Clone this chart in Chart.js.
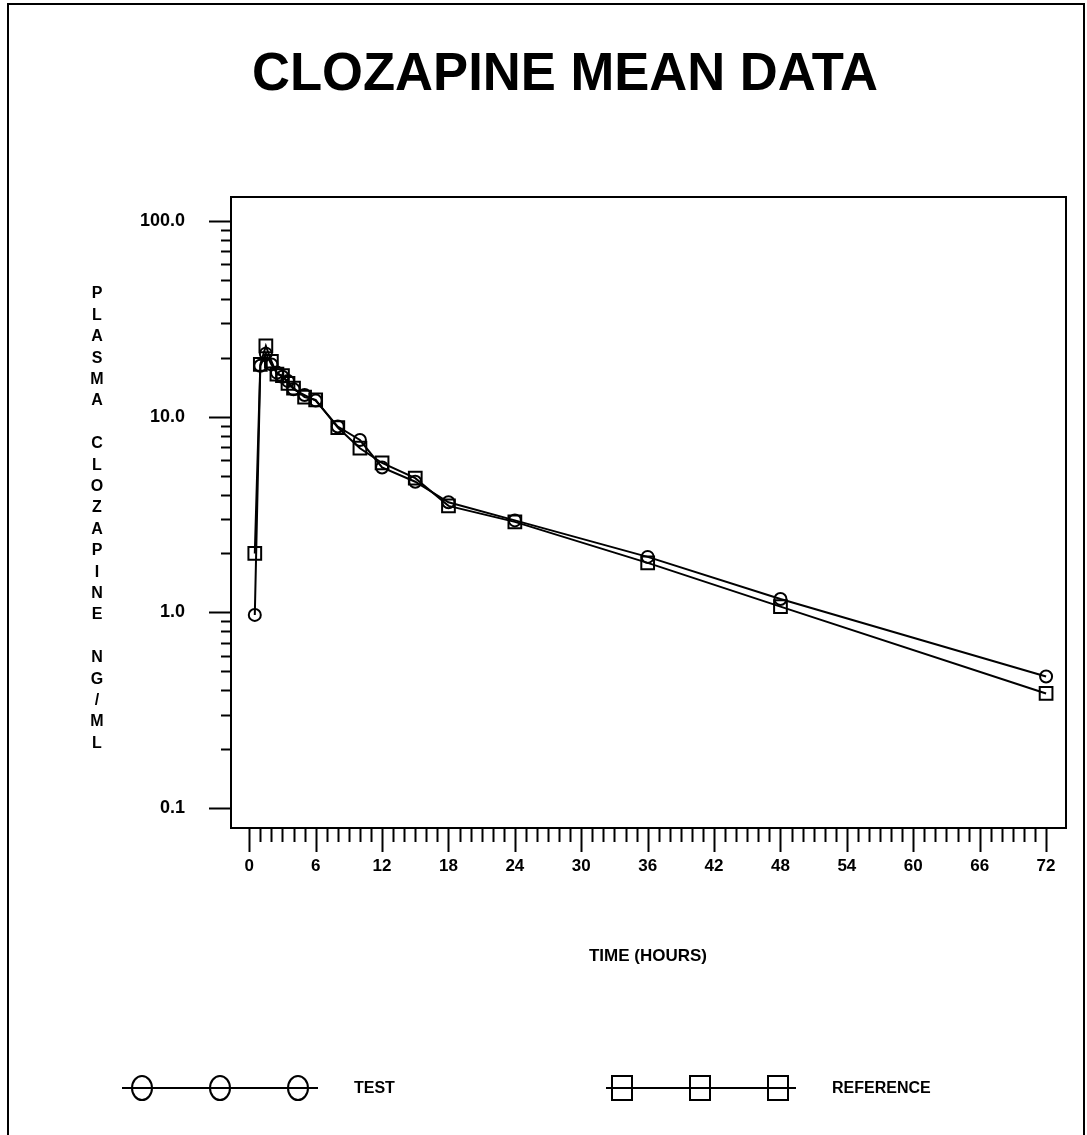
<!DOCTYPE html>
<html>
<head>
<meta charset="utf-8">
<title>Clozapine Mean Data</title>
<script src="https://cdn.jsdelivr.net/npm/chart.js@4.4.1/dist/chart.umd.min.js"></script>
<style>
  html, body { margin: 0; padding: 0; background: #fff; }
  canvas { display: block; }
</style>
</head>
<body>
<canvas id="pkChart" width="1087" height="1135"></canvas>
<script>
// sampling times (hours)
const times = [0.5, 1, 1.5, 2, 2.5, 3, 3.5, 4, 5, 6, 8, 10, 12, 15, 18, 24, 36, 48, 72];
// mean plasma clozapine, ng/mL
const testConc = [0.97, 18.2, 21.0, 18.5, 16.8, 16.0, 15.2, 13.8, 12.9, 12.1, 8.9, 7.6, 5.5, 4.65, 3.65, 2.95, 1.92, 1.17, 0.47];
const refConc = [2.0, 18.5, 23.0, 19.2, 16.5, 16.2, 14.8, 14.0, 12.6, 12.2, 8.8, 6.9, 5.8, 4.85, 3.5, 2.9, 1.79, 1.07, 0.385];

const xTickValues = [0, 6, 12, 18, 24, 30, 36, 42, 48, 54, 60, 66, 72];
const yTickValues = [0.1, 1, 10, 100];
const yLabelText = 'PLASMA CLOZAPINE NG/ML';

const FONT = '"Liberation Sans", Arial, sans-serif';

function toPoints(values) {
  return times.map((t, i) => ({ x: t, y: values[i] }));
}

// draws the page frame, plot box, tick marks, titles and the legend
const decorations = {
  id: 'decorations',
  afterDraw(chart) {
    const ctx = chart.ctx;
    const area = chart.chartArea;
    const xs = chart.scales.x;
    const ys = chart.scales.y;
    ctx.save();
    ctx.strokeStyle = '#000';
    ctx.fillStyle = '#000';

    // page frame
    ctx.lineWidth = 2;
    ctx.beginPath();
    ctx.moveTo(8, 1140);
    ctx.lineTo(8, 4);
    ctx.lineTo(1084, 4);
    ctx.lineTo(1084, 1140);
    ctx.stroke();

    // plot box
    ctx.lineWidth = 2;
    ctx.strokeRect(area.left, area.top, area.right - area.left, area.bottom - area.top);

    // x tick marks: every hour, longer every 6 h
    ctx.lineWidth = 2;
    for (let h = 0; h <= 72; h++) {
      const px = Math.round(xs.getPixelForValue(h)) + 0.5;
      const len = h % 6 === 0 ? 24 : 14;
      ctx.beginPath();
      ctx.moveTo(px, area.bottom);
      ctx.lineTo(px, area.bottom + len);
      ctx.stroke();
    }

    // y tick marks: decades long, 2..9 short
    [0.1, 1, 10].forEach(dec => {
      for (let m = 1; m <= 9; m++) {
        const v = dec * m;
        const py = Math.round(ys.getPixelForValue(v)) + 0.5;
        const len = m === 1 ? 22 : 10;
        ctx.beginPath();
        ctx.moveTo(area.left - len, py);
        ctx.lineTo(area.left, py);
        ctx.stroke();
      }
    });
    const p100 = Math.round(ys.getPixelForValue(100)) + 0.5;
    ctx.beginPath();
    ctx.moveTo(area.left - 22, p100);
    ctx.lineTo(area.left, p100);
    ctx.stroke();

    // main title, condensed
    ctx.font = 'bold 53px ' + FONT;
    ctx.textBaseline = 'alphabetic';
    ctx.textAlign = 'left';
    const title = 'CLOZAPINE MEAN DATA';
    const tw = ctx.measureText(title).width;
    ctx.save();
    ctx.translate(252, 90);
    ctx.scale(626 / tw, 1);
    ctx.fillText(title, 0, 0);
    ctx.restore();

    // vertical stacked y axis title
    ctx.font = 'bold 16px ' + FONT;
    ctx.textAlign = 'center';
    ctx.textBaseline = 'middle';
    for (let i = 0; i < yLabelText.length; i++) {
      ctx.fillText(yLabelText[i], 97, 294 + i * 21.4);
    }

    // x axis title
    ctx.font = 'bold 17px ' + FONT;
    ctx.fillText('TIME (HOURS)', 648, 956);

    // legend
    const ly = 1088;
    ctx.lineWidth = 2;
    ctx.beginPath();
    ctx.moveTo(122, ly);
    ctx.lineTo(318, ly);
    ctx.moveTo(606, ly);
    ctx.lineTo(796, ly);
    ctx.stroke();
    [142, 220, 298].forEach(cx => {
      ctx.beginPath();
      ctx.ellipse(cx, ly, 10, 12, 0, 0, Math.PI * 2);
      ctx.stroke();
    });
    [622, 700, 778].forEach(cx => {
      ctx.strokeRect(cx - 10, ly - 12, 20, 24);
    });
    ctx.font = 'bold 16px ' + FONT;
    ctx.textAlign = 'left';
    ctx.fillText('TEST', 354, ly + 1);
    ctx.fillText('REFERENCE', 832, ly + 1);

    ctx.restore();
  }
};

const ctx = document.getElementById('pkChart').getContext('2d');
new Chart(ctx, {
  type: 'line',
  data: {
    datasets: [{
      label: 'TEST',
      data: toPoints(testConc),
      borderColor: '#000',
      borderWidth: 2,
      pointStyle: 'circle',
      pointRadius: 6,
      pointBorderWidth: 2,
      pointBorderColor: '#000',
      pointBackgroundColor: 'rgba(0,0,0,0)',
      tension: 0
    },
    {
      label: 'REFERENCE',
      data: toPoints(refConc),
      borderColor: '#000',
      borderWidth: 2,
      pointStyle: 'rect',
      pointRadius: 9,
      pointBorderWidth: 2,
      pointBorderColor: '#000',
      pointBackgroundColor: 'rgba(0,0,0,0)',
      tension: 0
    }]
  },
  options: {
    responsive: false,
    animation: false,
    devicePixelRatio: 1,
    layout: {
      padding: { left: 0, top: 197, right: 21, bottom: 247 }
    },
    plugins: {
      legend: { display: false },
      title: { display: false },
      tooltip: { enabled: false }
    },
    scales: {
      x: {
        type: 'linear',
        min: -1.65,
        max: 73.8,
        afterBuildTicks: scale => { scale.ticks = xTickValues.map(v => ({ value: v })); },
        afterFit: scale => { scale.height = 60; },
        grid: { display: false, drawTicks: false },
        border: { display: false },
        ticks: {
          padding: 28,
          color: '#000',
          font: { family: FONT, size: 17, weight: 'bold' },
          maxRotation: 0,
          autoSkip: false
        }
      },
      y: {
        type: 'logarithmic',
        min: 0.079,
        max: 132.7,
        afterBuildTicks: scale => { scale.ticks = yTickValues.map(v => ({ value: v })); },
        afterFit: scale => { scale.width = 231; },
        grid: { display: false, drawTicks: false },
        border: { display: false },
        ticks: {
          padding: 46,
          color: '#000',
          font: { family: FONT, size: 18, weight: 'bold' },
          callback: v => v.toFixed(1)
        }
      }
    }
  },
  plugins: [decorations]
});
</script>
</body>
</html>
